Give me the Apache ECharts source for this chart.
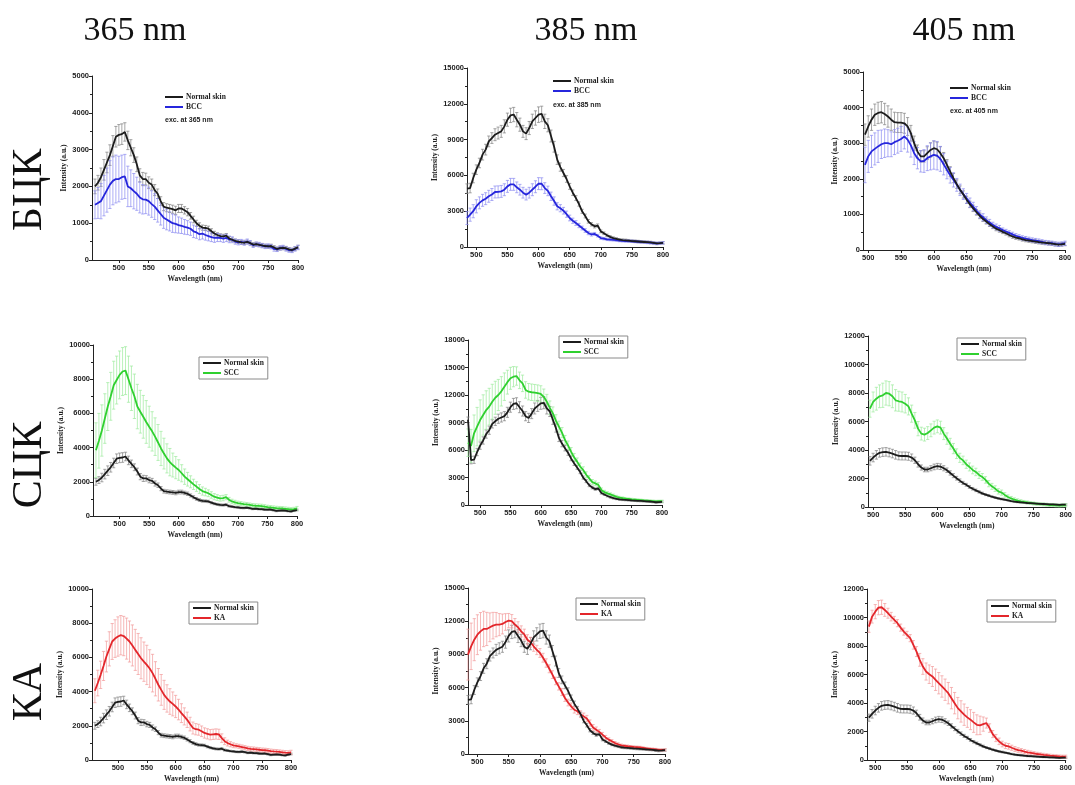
<!DOCTYPE html>
<html>
<head>
<meta charset="utf-8">
<script src="https://cdn.jsdelivr.net/npm/echarts@6/dist/echarts.min.js"></script>
<style>
html,body{margin:0;padding:0;background:#fff;}
#c{width:1075px;height:785px;}
</style>
</head>
<body>
<div id="c"></div>
<script>
// ---- wavelength grids (nm), 5 nm sampling ----
function wlRange(a, b) { const r = []; for (let w = a; w <= b; w += 5) r.push(w); return r; }
const WL_365 = wlRange(460, 800);
const WL_385 = wlRange(480, 800);
const WL_405 = wlRange(490, 800);

// ---- excitation 365 nm ----
const NORMAL_365 = [2000,2100,2250,2450,2650,2850,3100,3350,3400,3420,
  3480,3250,3050,2850,2600,2300,2200,2200,2100,2050,
  1900,1800,1600,1450,1420,1400,1380,1350,1400,1400,
  1350,1300,1200,1100,1000,930,880,870,850,780,
  720,680,650,640,660,580,550,520,500,480,
  470,490,460,420,430,410,400,380,370,380,
  340,300,320,330,320,290,270,310,350];
const NORMAL_365_SD = [200,200,250,280,280,280,280,280,280,280,
  250,250,220,200,200,180,180,160,160,150,
  150,130,120,110,110,110,110,110,110,110,
  100,100,90,90,80,80,70,70,70,70,
  60,60,60,60,60,60,50,50,50,50,
  50,50,50,50,50,50,50,50,50,50,
  50,50,50,50,50,50,50,50,50];
const BCC_365 = [1500,1550,1600,1750,1900,2050,2150,2200,2200,2250,
  2270,2000,1950,1870,1800,1700,1650,1640,1600,1520,
  1450,1350,1250,1150,1100,1050,1000,980,950,930,
  900,880,850,780,750,700,720,680,650,620,
  600,610,600,580,600,560,550,500,480,490,
  470,500,460,400,430,420,390,370,380,360,
  300,290,330,340,300,270,260,300,340];
const BCC_365_SD = [380,420,480,550,600,650,650,650,620,600,
  600,550,500,480,450,420,400,380,380,360,
  350,320,300,290,280,260,250,240,220,210,
  200,190,180,170,160,150,150,140,130,120,
  120,110,100,100,100,90,80,70,70,70,
  70,70,70,60,60,60,60,60,60,60,
  60,60,60,60,60,60,60,60,60];
const SCC_365 = [3850,4400,5000,5700,6400,7000,7650,7950,8250,8450,
  8500,8000,7470,7000,6400,6100,5800,5500,5220,4950,
  4640,4300,3950,3650,3370,3150,2980,2830,2690,2500,
  2300,2150,2000,1850,1720,1580,1460,1400,1330,1230,
  1130,1080,1030,1050,1100,950,850,800,750,730,
  700,680,650,620,600,590,580,550,520,500,
  480,460,450,440,420,400,380,400,450];
const SCC_365_SD = [1600,1600,1500,1450,1400,1400,1400,1400,1400,1400,
  1400,1350,1300,1300,1300,1250,1250,1250,1200,1150,
  1100,1050,1000,900,850,800,700,650,600,500,
  450,400,350,300,280,260,240,220,200,190,
  180,170,160,160,150,140,130,120,120,110,
  110,110,110,110,110,110,110,110,110,110,
  110,110,110,110,110,110,110,110,110];
const KA_365 = [4050,4500,4980,5500,6050,6500,6930,7100,7220,7300,
  7250,7100,6930,6700,6440,6200,5950,5750,5560,5350,
  5080,4750,4400,4100,3810,3600,3420,3280,3130,2950,
  2740,2550,2350,2100,1870,1800,1770,1680,1580,1530,
  1480,1500,1520,1500,1280,1100,990,920,860,830,
  800,760,720,680,650,640,620,600,580,570,
  550,520,500,490,470,450,430,420,450];
const KA_365_SD = [700,750,800,850,900,1000,1050,1100,1150,1150,
  1150,1200,1200,1200,1200,1200,1200,1150,1150,1100,
  1100,1000,950,900,850,800,750,700,650,600,
  550,500,450,400,350,330,320,310,300,300,
  300,300,300,300,250,200,170,150,140,120,
  120,120,120,120,120,120,120,120,120,120,
  120,120,120,120,120,120,120,120,120];

// ---- excitation 385 nm ----
const NORMAL_385 = [9300,4890,4940,5780,6480,7040,7740,8160,8850,9130,
  9410,9550,9690,10110,10670,11030,11100,10670,10250,9690,
  9500,9970,10530,10810,11090,11150,10530,10200,9300,8400,
  7320,6700,6200,5700,5080,4550,4100,3600,2990,2600,
  2150,1900,1730,1800,1310,1150,980,850,750,680,
  610,580,560,530,500,480,460,440,420,400,
  380,340,300,320,350];
const NORMAL_385_SD = [300,400,400,400,400,400,450,450,450,450,
  500,500,500,550,550,600,600,600,550,500,
  500,550,600,600,650,650,600,550,500,450,
  400,350,300,280,250,230,200,180,170,160,
  150,140,130,130,120,110,100,100,100,100,
  100,100,100,100,100,100,100,100,100,100,
  100,100,100,100,100];
const BCC_385 = [null,2430,2710,3000,3410,3700,3910,4050,4250,4400,
  4610,4620,4660,4800,5080,5250,5250,5000,4800,4550,
  4390,4550,4800,5050,5310,5300,4940,4700,4250,3850,
  3410,3250,3040,2750,2430,2200,2010,1800,1590,1380,
  1170,1050,1100,950,750,700,640,620,600,570,
  540,520,500,490,480,460,440,420,400,380,
  360,330,300,320,350];
const BCC_385_SD = [0,550,550,550,550,500,500,500,500,500,
  500,500,500,500,500,500,500,450,450,450,
  450,450,500,500,500,500,450,400,350,350,
  300,300,280,260,240,220,200,180,160,150,
  140,130,120,110,100,100,100,100,100,100,
  100,100,100,100,100,100,100,100,100,100,
  100,100,100,100,100];
const SCC_385 = [6800,6450,7820,8550,9270,9820,10360,10730,11270,11700,
  12000,12400,12910,13400,13820,14000,14070,13600,13270,12550,
  12360,12300,12250,12200,12110,11800,11270,10600,10000,9200,
  8550,7900,7090,6500,5820,5200,4730,4200,3820,3300,
  2910,2500,2360,2200,1640,1400,1270,1150,1020,900,
  800,750,700,660,620,590,560,530,500,480,
  460,430,400,410,420];
const SCC_385_SD = [1500,1800,2000,2100,2200,2200,2100,2000,1900,1800,
  1700,1600,1500,1300,1200,1100,1000,900,900,900,
  900,900,900,900,900,850,800,750,700,650,
  600,550,500,480,450,420,400,380,350,320,
  300,280,260,240,220,200,180,170,160,150,
  140,130,120,110,110,110,110,110,110,110,
  110,110,110,110,110];
const KA_385 = [null,8980,9730,10330,10780,11080,11300,11300,11450,11600,
  11690,11690,11750,11930,12050,12000,11690,11450,11080,10800,
  10330,10100,9730,9400,9130,8700,8220,7700,7170,6600,
  6110,5600,5060,4650,4310,4000,3860,3600,3400,3200,
  2800,2400,2200,2000,1750,1500,1300,1150,990,880,
  780,740,700,670,640,620,600,550,500,470,
  440,410,380,370,380];
const KA_385_SD = [0,2300,2100,1900,1800,1700,1600,1500,1300,1200,
  1100,1000,900,750,650,600,550,500,500,480,
  450,450,450,420,400,400,380,360,350,340,
  330,320,310,300,300,300,300,300,300,290,
  280,260,240,220,200,180,160,150,140,130,
  120,110,110,100,100,100,100,100,100,100,
  100,100,100,100,100];

// ---- excitation 405 nm ----
const NORMAL_405 = [2970,3240,3470,3660,3800,3850,3870,3820,3750,3660,
  3590,3580,3580,3560,3470,3280,3000,2770,2630,2630,
  2720,2810,2860,2830,2720,2580,2390,2200,2020,1850,
  1690,1560,1410,1280,1170,1060,960,870,800,720,
  660,600,560,510,470,420,380,350,330,300,
  280,265,250,235,220,210,200,190,180,165,
  150,160,170];
const NORMAL_405_SD = [250,300,300,300,300,300,300,300,300,300,
  280,280,280,280,250,220,200,180,160,160,
  180,200,200,200,180,160,150,140,130,120,
  110,100,100,90,90,80,80,70,70,60,
  60,60,60,50,50,50,50,50,50,50,
  50,50,50,50,50,50,50,50,50,50,
  50,50,50];
const BCC_405 = [1970,2390,2630,2770,2840,2910,2970,3000,3000,2970,
  3030,3070,3120,3190,3100,2940,2720,2580,2490,2500,
  2580,2630,2670,2650,2560,2410,2250,2100,1970,1830,
  1690,1570,1450,1330,1220,1110,1000,920,840,770,
  700,650,610,560,520,480,440,400,370,340,
  320,300,280,265,250,230,210,200,190,170,
  160,170,190];
const BCC_405_SD = [500,500,450,450,450,450,400,400,380,350,
  350,350,350,350,350,330,320,300,300,320,
  350,380,400,400,350,300,250,220,200,180,
  160,150,140,130,120,110,100,100,90,90,
  80,80,80,60,60,60,60,60,60,60,
  60,60,60,60,60,60,60,60,60,60,
  60,60,60];
const SCC_405 = [5960,6900,7370,7600,7770,7840,8000,7950,7770,7490,
  7420,7370,7250,7060,6550,6080,5500,5150,5080,5190,
  5380,5570,5660,5570,5150,4800,4440,4100,3740,3450,
  3270,3000,2810,2600,2460,2250,2110,1900,1640,1450,
  1290,1100,1010,850,700,600,510,450,400,360,
  320,280,250,220,200,180,160,140,130,110,
  100,110,120];
const SCC_405_SD = [500,600,700,800,800,850,850,850,800,750,
  700,700,650,600,600,550,500,450,450,450,
  450,450,450,450,420,400,380,360,340,320,
  300,290,280,270,260,250,240,230,220,210,
  200,190,180,160,150,140,130,120,110,100,
  100,100,100,100,100,100,100,100,100,100,
  100,100,100];
const KA_405 = [9360,10060,10410,10690,10720,10530,10300,10060,9830,9600,
  9290,9010,8780,8550,8080,7610,7030,6560,6210,6020,
  5860,5630,5390,5160,4930,4690,4340,3990,3640,3410,
  3180,2990,2830,2640,2470,2430,2520,2590,2240,1820,
  1540,1310,1120,1000,960,860,770,700,650,590,
  540,500,460,420,390,360,340,310,290,270,
  250,240,240];
const KA_405_SD = [400,450,500,500,500,450,350,300,250,250,
  250,250,250,250,300,350,450,550,600,650,
  700,750,750,750,750,750,750,750,750,750,
  750,700,700,700,700,650,500,350,300,250,
  250,230,200,200,200,180,170,160,150,150,
  140,130,120,120,110,110,100,100,100,100,
  100,100,100];

// ---- labels ----
const COLUMN_TITLES = ['365 nm', '385 nm', '405 nm'];
const ROW_TITLES = ['БЦК', 'СЦК', 'КА'];
const NORMAL_NAME = 'Normal skin';
const DISEASE_NAMES = ['BCC', 'SCC', 'KA'];
const EXC_LABELS = ['exc. at 365 nm', 'exc. at 385 nm', 'exc. at 405 nm'];
const X_TICKS = [500, 550, 600, 650, 700, 750, 800];

const COLUMNS = [
  { wl: WL_365, normal: NORMAL_365, normalSd: NORMAL_365_SD,
    disease: [[BCC_365, BCC_365_SD], [SCC_365, SCC_365_SD], [KA_365, KA_365_SD]] },
  { wl: WL_385, normal: NORMAL_385, normalSd: NORMAL_385_SD,
    disease: [[BCC_385, BCC_385_SD], [SCC_385, SCC_385_SD], [KA_385, KA_385_SD]] },
  { wl: WL_405, normal: NORMAL_405, normalSd: NORMAL_405_SD,
    disease: [[BCC_405, BCC_405_SD], [SCC_405, SCC_405_SD], [KA_405, KA_405_SD]] }
];

// ---- look ----
const DISEASE_STYLE = [
  { line: '#2626dc', bar: '#8a8af0' },
  { line: '#2fd02f', bar: '#9ceb9c' },
  { line: '#e3262b', bar: '#f29a9a' }
];
const NORMAL_STYLE = { line: '#1c1c1c', bar: '#808080' };

// panel layout: [left, top, width, height], x-axis start, y max / step
const LAYOUT = [
  [ {g:[92,76,206,184],  xMin:455, yMax:5000,  yStep:1000, leg:[165,93],  box:false, exc:[165,121]},
    {g:[467,68,196,179], xMin:485, yMax:15000, yStep:3000, leg:[553,77],  box:false, exc:[553,106]},
    {g:[863,72,202,178], xMin:492, yMax:5000,  yStep:1000, leg:[950,84],  box:false, exc:[950,112]} ],
  [ {g:[93,345,204,171], xMin:455, yMax:10000, yStep:2000, leg:[199,357], box:true},
    {g:[468,340,194,165],xMin:480, yMax:18000, yStep:3000, leg:[559,336], box:true},
    {g:[868,336,198,171],xMin:492, yMax:12000, yStep:2000, leg:[957,338], box:true} ],
  [ {g:[92,589,199,171], xMin:455, yMax:10000, yStep:2000, leg:[189,602], box:true},
    {g:[468,588,197,166],xMin:485, yMax:15000, yStep:3000, leg:[576,598], box:true},
    {g:[867,589,201,171],xMin:487, yMax:12000, yStep:2000, leg:[987,600], box:true} ]
];

function linePts(wl, vals, xMin) {
  const out = [];
  wl.forEach((w, i) => { if (w >= xMin && vals[i] != null) out.push([w, vals[i]]); });
  return out;
}
function barPts(wl, vals, sd, xMin) {
  const out = [];
  wl.forEach((w, i) => {
    if (w >= xMin && vals[i] != null && sd[i]) out.push([w, Math.max(0, vals[i] - sd[i]), vals[i] + sd[i]]);
  });
  return out;
}
function renderErr(params, api) {
  const x = api.value(0);
  const a = api.coord([x, api.value(1)]);
  const b = api.coord([x, api.value(2)]);
  const c = 1.6;
  const st = { stroke: api.visual('color'), lineWidth: 0.7 };
  return { type: 'group', children: [
    { type: 'line', shape: { x1: a[0], y1: a[1], x2: b[0], y2: b[1] }, style: st },
    { type: 'line', shape: { x1: a[0] - c, y1: a[1], x2: a[0] + c, y2: a[1] }, style: st },
    { type: 'line', shape: { x1: b[0] - c, y1: b[1], x2: b[0] + c, y2: b[1] }, style: st }
  ]};
}

const TICK_FONT = { fontFamily: 'Liberation Sans', fontWeight: 'bold', fontSize: 7.5, color: '#222' };
const NAME_FONT = { fontFamily: 'Liberation Serif', fontWeight: 'bold', fontSize: 7.5, color: '#222' };
const plain = v => String(v);

const grid = [], xAxis = [], yAxis = [], series = [], legend = [], graphic = [];
let idx = 0;
for (let r = 0; r < 3; r++) {
  for (let c = 0; c < 3; c++) {
    const L = LAYOUT[r][c], col = COLUMNS[c];
    const [dv, dsd] = col.disease[r];
    const ds = DISEASE_STYLE[r];
    grid.push({ left: L.g[0], top: L.g[1], width: L.g[2], height: L.g[3] });
    xAxis.push({
      type: 'value', gridIndex: idx, min: L.xMin, max: 800,
      name: 'Wavelength (nm)', nameLocation: 'middle', nameGap: 15, nameTextStyle: NAME_FONT,
      axisLine: { lineStyle: { color: '#222', width: 1 } },
      axisTick: { customValues: X_TICKS, length: 3, lineStyle: { color: '#222' } },
      axisLabel: Object.assign({ customValues: X_TICKS, margin: 4, formatter: plain }, TICK_FONT),
      splitLine: { show: false }
    });
    yAxis.push({
      type: 'value', gridIndex: idx, min: 0, max: L.yMax, interval: L.yStep,
      name: 'Intensity (a.u.)', nameLocation: 'middle', nameGap: 24, nameRotate: 90, nameTextStyle: NAME_FONT,
      axisLine: { show: true, lineStyle: { color: '#222', width: 1 } },
      axisTick: { show: true, length: 3, lineStyle: { color: '#222' } },
      minorTick: { show: true, splitNumber: 2, length: 2, lineStyle: { color: '#222' } },
      axisLabel: Object.assign({ margin: 3, formatter: plain }, TICK_FONT),
      splitLine: { show: false }
    });
    // error bars first, curves on top
    series.push({
      type: 'custom', name: NORMAL_NAME + ' SD', xAxisIndex: idx, yAxisIndex: idx,
      renderItem: renderErr, itemStyle: { color: NORMAL_STYLE.bar },
      encode: { x: 0, y: [1, 2] }, data: barPts(col.wl, col.normal, col.normalSd, L.xMin), z: 1, silent: true
    });
    series.push({
      type: 'custom', name: DISEASE_NAMES[r] + ' SD', xAxisIndex: idx, yAxisIndex: idx,
      renderItem: renderErr, itemStyle: { color: ds.bar },
      encode: { x: 0, y: [1, 2] }, data: barPts(col.wl, dv, dsd, L.xMin), z: 1, silent: true
    });
    series.push({
      type: 'line', name: DISEASE_NAMES[r], xAxisIndex: idx, yAxisIndex: idx,
      data: linePts(col.wl, dv, L.xMin), showSymbol: false, symbol: 'none',
      lineStyle: { color: ds.line, width: 1.8 }, itemStyle: { color: ds.line }, z: 3, animation: false
    });
    series.push({
      type: 'line', name: NORMAL_NAME, xAxisIndex: idx, yAxisIndex: idx,
      data: linePts(col.wl, col.normal, L.xMin), showSymbol: false, symbol: 'none',
      lineStyle: { color: NORMAL_STYLE.line, width: 1.8 }, itemStyle: { color: NORMAL_STYLE.line }, z: 4, animation: false
    });
    legend.push({
      data: [NORMAL_NAME, DISEASE_NAMES[r]], orient: 'vertical', left: L.leg[0], top: L.leg[1],
      icon: 'rect', itemWidth: 18, itemHeight: 2, itemGap: 2,
      padding: L.box ? [2, 4, 2, 4] : 0,
      borderColor: L.box ? '#8a8a8a' : 'transparent', borderWidth: L.box ? 1 : 0,
      textStyle: { fontFamily: 'Liberation Serif', fontWeight: 'bold', fontSize: 7.5, color: '#222', padding: [0, 0, 0, -2] },
      selectedMode: false
    });
    if (L.exc) {
      graphic.push({ type: 'text', left: L.exc[0], top: L.exc[1] - 4,
        style: { text: EXC_LABELS[c], font: 'bold 7px "Liberation Sans"', fill: '#222' } });
    }
    idx++;
  }
}

const COL_X = [135, 586, 964];
COLUMN_TITLES.forEach((t, i) => graphic.push({
  type: 'text', x: COL_X[i], y: 31,
  style: { text: t, font: '34px "Liberation Serif"', fill: '#111', align: 'center', verticalAlign: 'middle' }
}));
const ROW_Y = [190, 465, 692];
ROW_TITLES.forEach((t, i) => graphic.push({
  type: 'text', x: 30, y: ROW_Y[i], rotation: Math.PI / 2,
  style: { text: t, font: '42px "Liberation Serif"', fill: '#111', align: 'center', verticalAlign: 'middle' }
}));

const chart = echarts.init(document.getElementById('c'), null, { renderer: 'canvas' });
chart.setOption({
  backgroundColor: '#fff', animation: false,
  grid, xAxis, yAxis, series, legend, graphic
});
</script>
</body>
</html>
